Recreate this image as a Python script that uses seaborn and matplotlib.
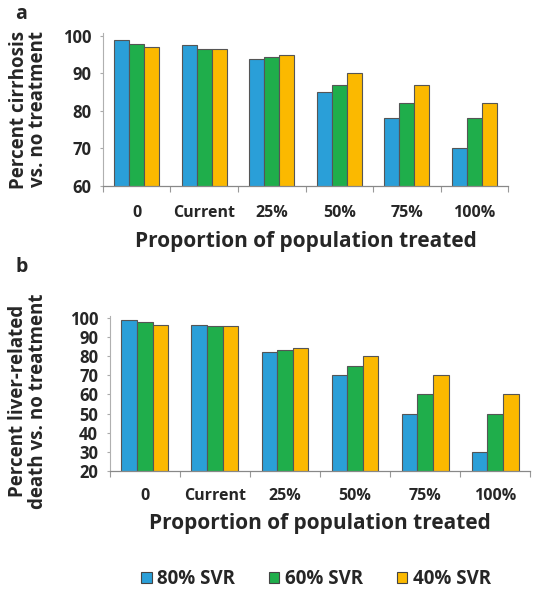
import numpy as np
import pandas as pd
import seaborn as sns
import matplotlib.pyplot as plt
from matplotlib.patches import Patch

categories = ['0', 'Current', '25%', '50%', '75%', '100%']
series = ['80% SVR', '60% SVR', '40% SVR']

cirrhosis_80 = [99, 97.7, 94, 85, 78, 70]
cirrhosis_60 = [98, 96.5, 94.5, 87, 82, 78]
cirrhosis_40 = [97, 96.5, 95, 90, 87, 82]

death_80 = [99, 96, 82, 70, 50, 30]
death_60 = [98, 95.5, 83, 75, 60, 50]
death_40 = [96, 95.5, 84, 80, 70, 60]

colors = ['#2a9fd8', '#1fae4b', '#fbb900']

sns.set_style('white')
plt.rcParams['font.family'] = ['Open Sans', 'DejaVu Sans']
plt.rcParams['font.weight'] = 'bold'


def make_df(a, b, c):
    rows = []
    for s, vals in zip(series, [a, b, c]):
        for cat, v in zip(categories, vals):
            rows.append({'cat': cat, 'svr': s, 'value': v})
    return pd.DataFrame(rows)


df_a = make_df(cirrhosis_80, cirrhosis_60, cirrhosis_40)
df_b = make_df(death_80, death_60, death_40)

fig = plt.figure(figsize=(5.36, 5.9), dpi=100)
ax1 = fig.add_axes([0.192, 0.685, 0.756, 0.259])
ax2 = fig.add_axes([0.205, 0.2017, 0.784, 0.263])


def draw(ax, df, ylim, yticks, ylabel, ytick_size, xpad):
    sns.barplot(data=df, x='cat', y='value', hue='svr', palette=colors,
                saturation=1, width=0.67, edgecolor='#555555', linewidth=0.8,
                ax=ax, legend=False)
    ax.set_ylim(*ylim)
    ax.set_xlim(-0.5, 5.5)
    ax.set_yticks(yticks)
    ax.set_xticks(np.arange(-0.5, 6), minor=True)
    ax.tick_params(axis='x', which='major', length=0, pad=xpad, labelsize=11.5)
    ax.tick_params(axis='x', which='minor', length=4, width=0.8, color='#999999',
                   direction='out', bottom=True)
    ax.tick_params(axis='y', left=True, length=2.5, width=0.8, color='#aaaaaa',
                   direction='out', labelsize=ytick_size, pad=6)
    for lab in ax.get_xticklabels() + ax.get_yticklabels():
        lab.set_fontweight('bold')
    for s in ['top', 'right']:
        ax.spines[s].set_visible(False)
    ax.spines['left'].set_color('#b0b0b0')
    ax.spines['left'].set_linewidth(0.8)
    ax.spines['bottom'].set_color('#888888')
    ax.spines['bottom'].set_linewidth(0.9)
    ax.set_xlabel('Proportion of population treated', fontsize=15,
                  fontweight='bold', labelpad=7)
    ax.set_ylabel(ylabel, fontsize=13.5, fontweight='bold', linespacing=0.95)


draw(ax1, df_a, (60, 100.8), [60, 70, 80, 90, 100],
     'Percent cirrhosis\nvs. no treatment', 12, 14)
draw(ax2, df_b, (20, 101), list(range(20, 101, 10)),
     'Percent liver-related\ndeath vs. no treatment', 12, 12)

ax1.yaxis.set_label_coords(-0.136, 0.5)
ax2.yaxis.set_label_coords(-0.148, 0.45)

fig.text(0.028, 0.976, 'a', fontsize=14, fontweight='bold', va='center')
fig.text(0.028, 0.547, 'b', fontsize=14, fontweight='bold', va='center')

handles = [Patch(facecolor=c, edgecolor='#444444', linewidth=0.8) for c in colors]
fig.legend(handles, series, loc='center', bbox_to_anchor=(0.59, 0.019), ncol=3,
           frameon=False, prop={'weight': 'bold', 'size': 13.5},
           handlelength=0.55, handleheight=0.55, handletextpad=0.3, columnspacing=1.8)

fig.savefig('out.png', dpi=100)
